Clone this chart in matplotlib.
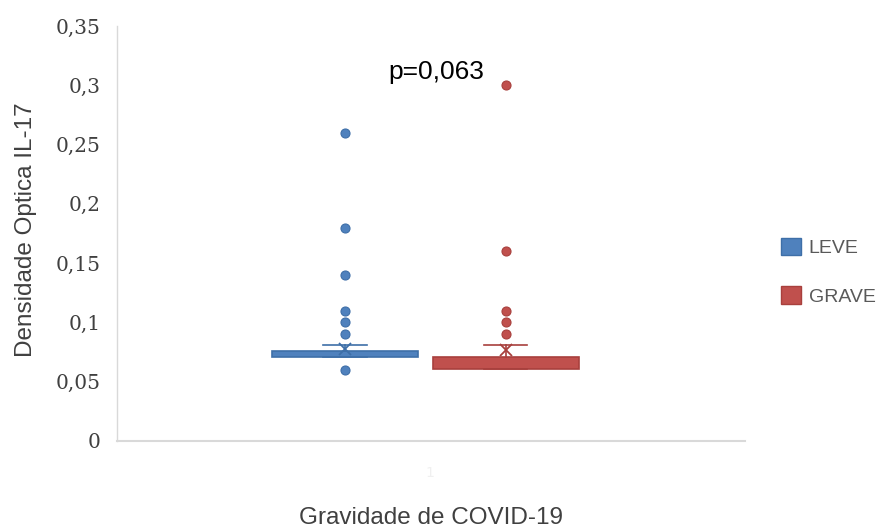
import matplotlib
matplotlib.use("Agg")
import matplotlib.pyplot as plt
from matplotlib.patches import Patch

groups = ["LEVE", "GRAVE"]
positions = [0.363, 0.619]
q1 = [0.071, 0.061]
q3 = [0.076, 0.071]
medians = [0.073, 0.066]
means = [0.0775, 0.0765]
whis_lo = [0.071, 0.061]
whis_hi = [0.081, 0.081]
outliers = [
    [0.26, 0.18, 0.14, 0.11, 0.10, 0.09, 0.06],
    [0.30, 0.16, 0.11, 0.10, 0.09],
]
face_colors = ["#4F81BD", "#C0504D"]
edge_colors = ["#3E6FA8", "#A8403D"]
yticks = [0, 0.05, 0.1, 0.15, 0.2, 0.25, 0.3, 0.35]
ytick_labels = ["0", "0,05", "0,1", "0,15", "0,2", "0,25", "0,3", "0,35"]

fig = plt.figure(figsize=(8.79, 5.29), dpi=100)
ax = fig.add_axes([0.1331, 0.1664, 0.7145, 0.7845])

for i in range(len(groups)):
    stats = [{
        "med": medians[i], "q1": q1[i], "q3": q3[i],
        "whislo": whis_lo[i], "whishi": whis_hi[i],
        "mean": means[i], "fliers": outliers[i],
    }]
    ax.bxp(stats, positions=[positions[i]], widths=0.232, patch_artist=True,
           showmeans=True, manage_ticks=False, capwidths=0.069,
           boxprops=dict(facecolor=face_colors[i], edgecolor=edge_colors[i], linewidth=1.2),
           medianprops=dict(color=face_colors[i], linewidth=0),
           whiskerprops=dict(color=edge_colors[i], linewidth=1.2),
           capprops=dict(color=edge_colors[i], linewidth=1.2),
           meanprops=dict(marker="x", markeredgecolor=edge_colors[i], markersize=8,
                          markeredgewidth=1.3),
           flierprops=dict(marker="o", markerfacecolor=face_colors[i],
                           markeredgecolor=edge_colors[i], markersize=6.5,
                           markeredgewidth=0.8))

ax.set_xlim(0, 1)
ax.set_ylim(0, 0.35)
ax.set_yticks(yticks)
ax.set_yticklabels(ytick_labels, family="DejaVu Serif", fontsize=14.5, color="#404040")
ax.set_xticks([0.498])
ax.set_xticklabels(["1"], fontsize=10, color="#F0F0F0")
ax.tick_params(axis="both", length=0)
ax.tick_params(axis="y", pad=12)
ax.tick_params(axis="x", pad=18)

for side in ["top", "right"]:
    ax.spines[side].set_visible(False)
ax.spines["left"].set_color("#D9D9D9")
ax.spines["bottom"].set_color("#D9D9D9")
ax.spines["left"].set_linewidth(1.0)
ax.spines["bottom"].set_linewidth(1.5)

ax.set_ylabel("Densidade Optica IL-17", family="Liberation Sans", fontsize=17.5,
              color="#404040", ha="center", va="center")
ax.yaxis.set_label_coords(-0.145, 0.51)
ax.set_xlabel("Gravidade de COVID-19", family="Liberation Sans", fontsize=17.5,
              color="#404040", ha="center", va="center")
ax.xaxis.set_label_coords(0.5, -0.1855)

ax.text(0.508, 0.311, "p=0,063", family="Liberation Sans", fontsize=19,
        color="black", ha="center", va="center")

handles = [Patch(facecolor=face_colors[i], edgecolor=edge_colors[i], label=groups[i])
           for i in range(len(groups))]
leg = fig.legend(handles=handles, loc="center left", bbox_to_anchor=(0.889, 0.486),
                 frameon=False, prop={"family": "Liberation Sans", "size": 14},
                 handlelength=1.0, handleheight=1.0, labelspacing=1.5, handletextpad=0.4,
                 borderpad=0, borderaxespad=0)
for t in leg.get_texts():
    t.set_color("#595959")

fig.savefig("out.png", dpi=100)
